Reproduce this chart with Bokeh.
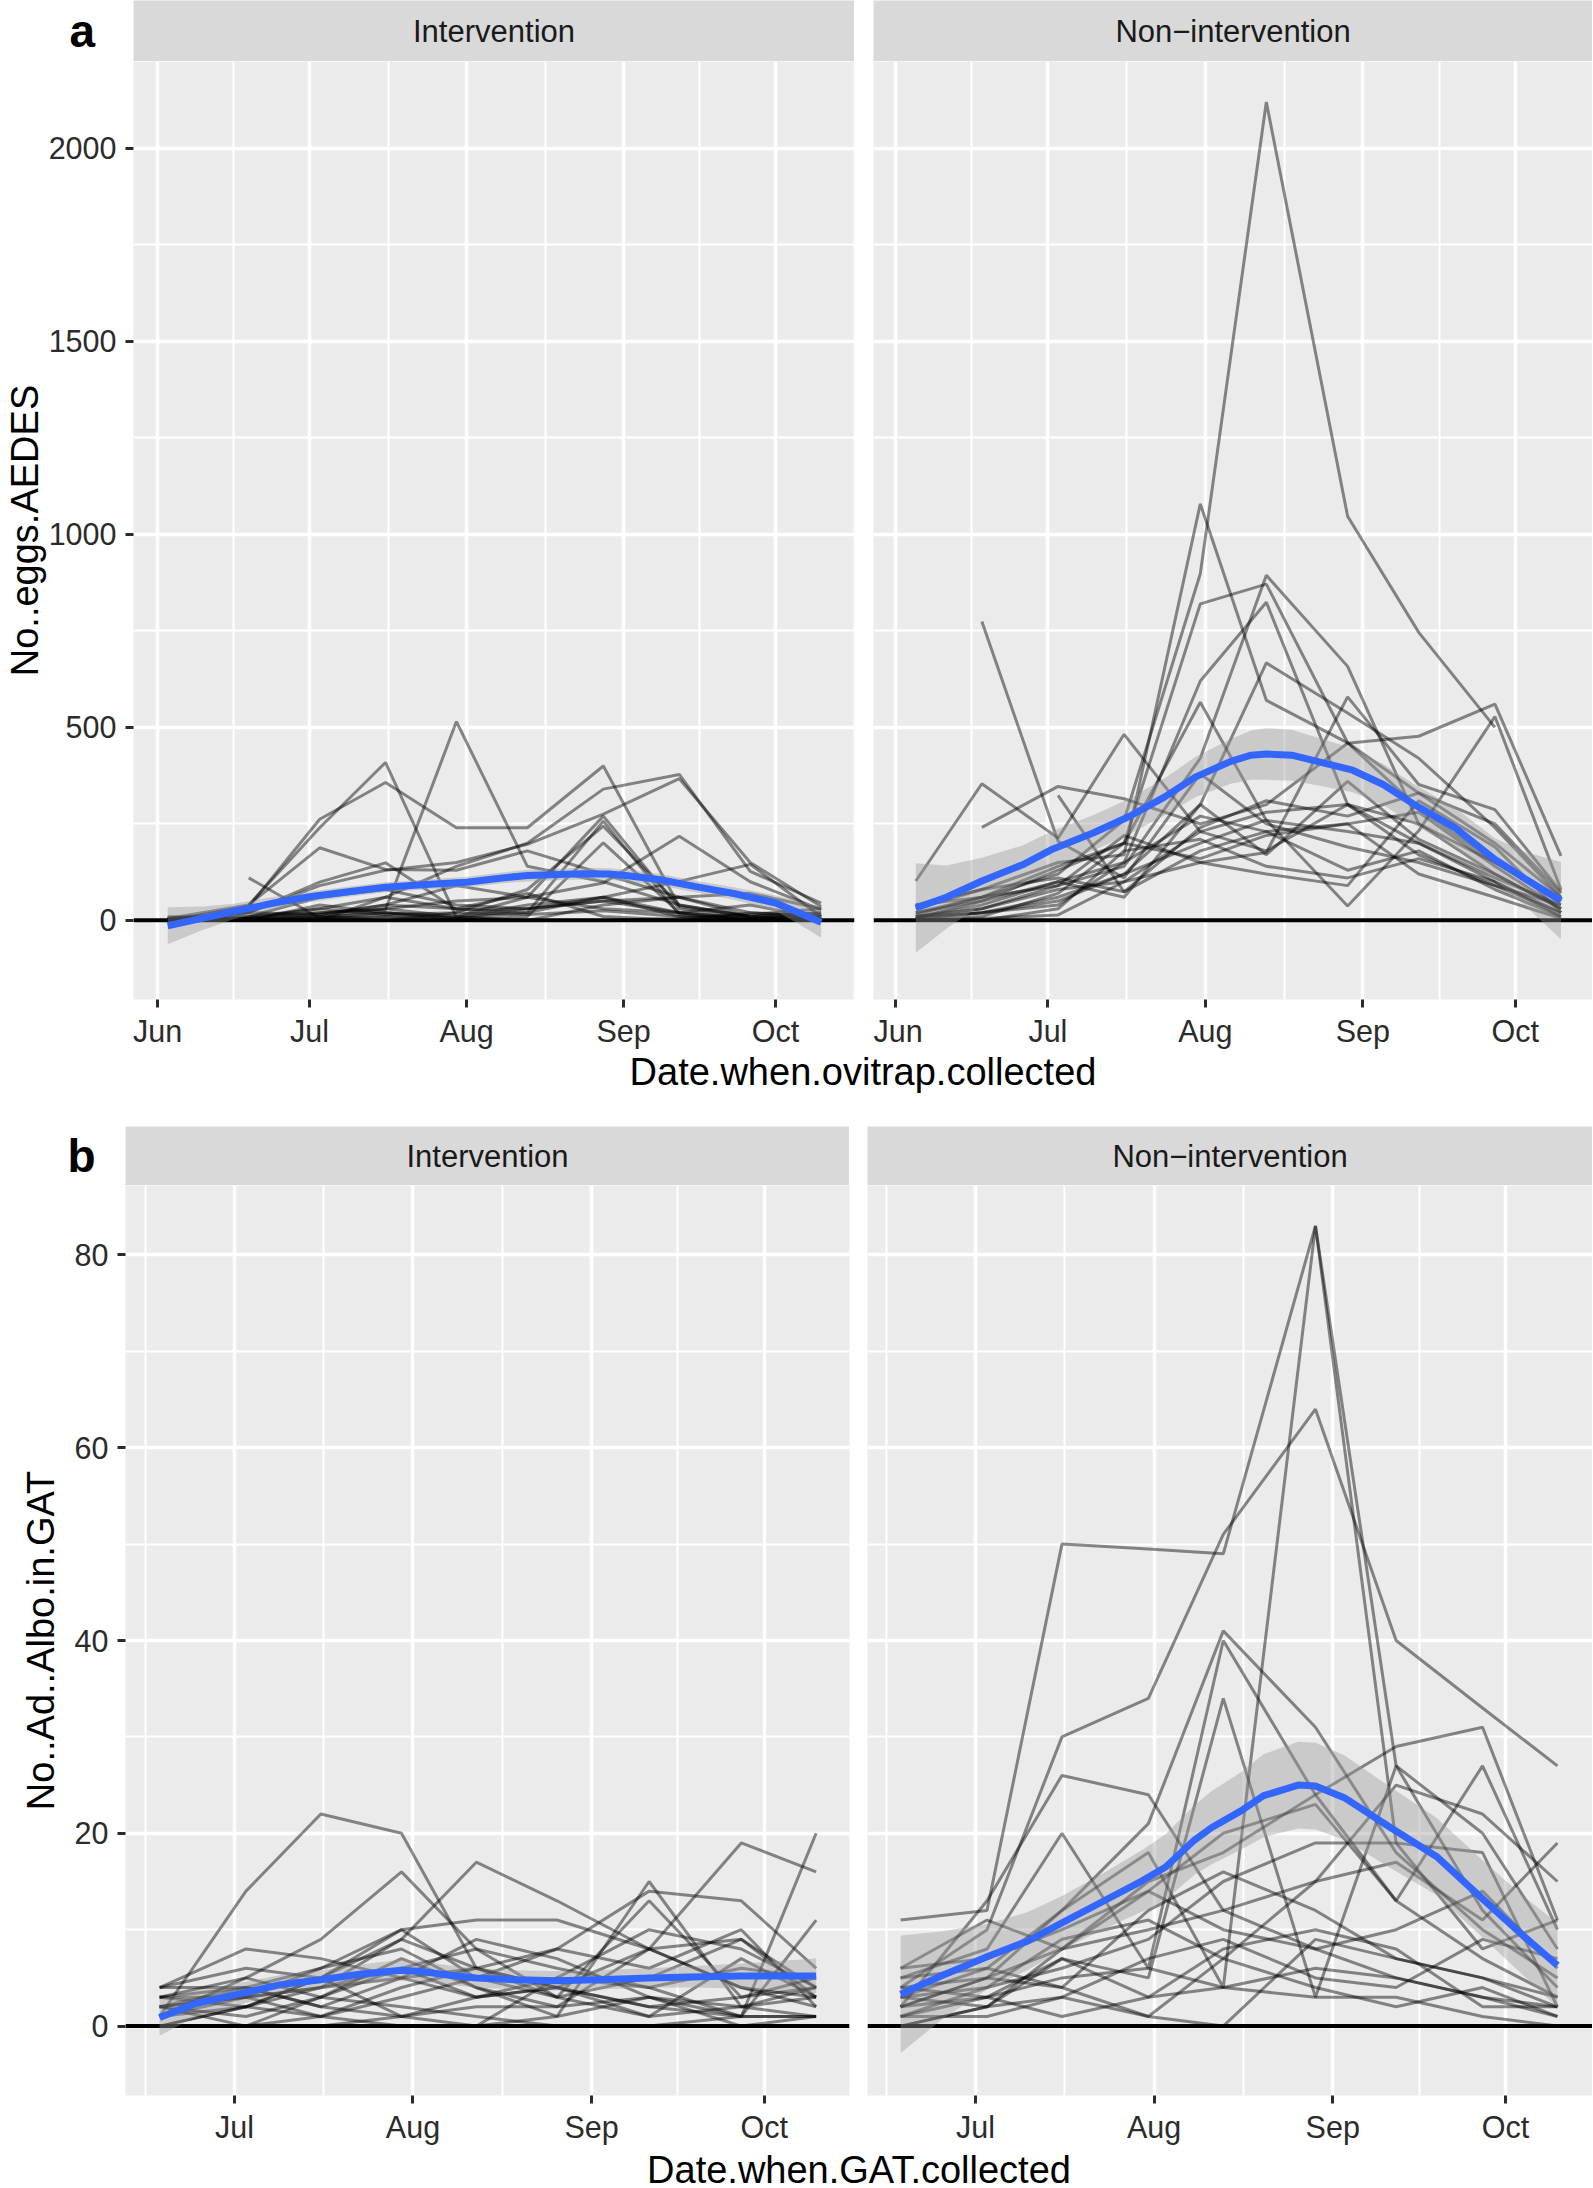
import numpy as np
import pandas as pd
from bokeh.plotting import figure
from bokeh.models import Range1d, FixedTicker, Span, Label, Spacer, DatetimeTickFormatter
from bokeh.layouts import column, row
from bokeh.embed import file_html
from bokeh.resources import INLINE

NaN = float("nan")

# ---------------------------------------------------------------- data
facet_labels = ["Intervention", "Non\u2212intervention"]
panel_tags = ["a", "b"]
eggs_title_y = "No..eggs.AEDES"
eggs_title_x = "Date.when.ovitrap.collected"
gat_title_y = "No..Ad..Albo.in.GAT"
gat_title_x = "Date.when.GAT.collected"

eggs_tick_dates = ["2017-06-01", "2017-07-01", "2017-08-01", "2017-09-01", "2017-10-01"]
eggs_tick_labels = ["Jun", "Jul", "Aug", "Sep", "Oct"]
eggs_minor_dates = ["2017-06-16", "2017-07-16 12:00", "2017-08-16 12:00", "2017-09-16", "2017-10-16 12:00"]
eggs_y_ticks = [0, 500, 1000, 1500, 2000]
eggs_y_minor = [250, 750, 1250, 1750]

gat_tick_dates = ["2017-07-01", "2017-08-01", "2017-09-01", "2017-10-01"]
gat_tick_labels = ["Jul", "Aug", "Sep", "Oct"]
gat_minor_dates = ["2017-06-15 12:00", "2017-07-16 12:00", "2017-08-16 12:00", "2017-09-16"]
gat_y_ticks = [0, 20, 40, 60, 80]
gat_y_minor = [10, 30, 50, 70]

# ovitrap eggs, intervention area
eggs_int_dates = ["2017-06-03", "2017-06-19", "2017-07-03", "2017-07-16", "2017-07-30",
                  "2017-08-13", "2017-08-28", "2017-09-12", "2017-09-26", "2017-10-10"]
eggs_int = [
    [NaN, 110, 6, 20, 5, 30, 60, 10, 5, 15],
    [0, 36, 262, 357, 240, 240, 400, 36, 10, 20],
    [NaN, 40, 240, 409, 8, 40, 60, 20, 5, 10],
    [0, 10, 20, 28, 515, 140, 100, 40, 10, 5],
    [0, 5, 30, 60, 140, 200, 340, 378, 127, 45],
    [5, 20, 90, 130, 150, 197, 275, 367, 150, 36],
    [0, 0, 10, 30, 50, 60, 97, 218, 100, 28],
    [0, 5, 15, 40, 30, 20, 60, 101, 145, 10],
    [5, 40, 188, 132, 130, 180, 120, 60, 20, 10],
    [0, 20, 99, 149, 28, 30, 50, 20, 5, 5],
    [0, 5, 20, 30, 10, 60, 270, 30, 5, 0],
    [0, 0, 10, 20, 5, 20, 257, 15, 0, 0],
    [5, 10, 30, 15, 20, 80, 244, 40, 10, 5],
    [0, 0, 5, 10, 0, 10, 201, 20, 0, 5],
    [0, 10, 60, 80, 40, 30, 50, 60, 10, 20],
    [0, 0, 40, 20, 10, 0, 40, 60, 70, 30],
    [5, 20, 15, 40, 90, 60, 30, 20, 40, 5],
    [0, 5, 10, 0, 20, 15, 25, 10, 0, 0],
    [0, 0, 0, 60, 30, 70, 10, 0, 20, 10],
    [10, 0, 5, 10, 5, 0, 0, 5, 15, 30],
]
eggs_int_smooth_dates = ["2017-06-03", "2017-06-10", "2017-06-16", "2017-06-24", "2017-07-01",
                         "2017-07-09", "2017-07-16", "2017-07-24", "2017-08-01", "2017-08-08",
                         "2017-08-13", "2017-08-19", "2017-08-24", "2017-08-29", "2017-09-01",
                         "2017-09-08", "2017-09-15", "2017-09-23", "2017-10-01", "2017-10-05",
                         "2017-10-10"]
eggs_int_smooth = [-14, 6, 23, 45, 61, 75, 86, 93, 99, 110, 116, 119, 121, 120, 117, 106, 88, 69, 45, 23, -5]
eggs_int_se = [48, 30, 20, 16, 14, 13, 13, 13, 14, 14, 15, 15, 15, 15, 15, 15, 15, 16, 20, 28, 40]

# ovitrap eggs, non-intervention area
eggs_non_dates = ["2017-06-05", "2017-06-18", "2017-07-03", "2017-07-16", "2017-07-31",
                  "2017-08-13", "2017-08-29", "2017-09-12", "2017-09-27", "2017-10-10"]
eggs_non = [
    [NaN, 774, 205, 110, 380, 250, 190, 150, 90, 40],
    [40, 60, 120, 260, 898, 2120, 1047, 746, 500, NaN],
    [30, 80, 150, 170, 1079, 570, 460, 330, 200, 60],
    [20, 50, 130, 200, 820, 871, 460, 290, 150, 50],
    [10, 30, 90, 140, 420, 894, 658, 250, 120, 30],
    [10, 40, 100, 150, 620, 824, 300, 200, 100, 20],
    [5, 20, 60, 120, 300, 667, 537, 420, 240, 60],
    [102, 354, 213, 482, 230, 180, 300, 250, 150, 50],
    [NaN, 241, 347, 315, 250, 300, 459, 477, 560, 167],
    [5, 20, 50, 120, 200, 260, 37, 232, 528, 80],
    [10, 30, 80, 100, 150, 176, 579, 352, 287, 74],
    [20, 60, 140, 200, 565, 259, 230, 200, 110, 40],
    [NaN, NaN, 324, 74, 180, 230, 250, 280, 140, 30],
    [0, 5, 14, 100, 230, 280, 300, 170, 90, 20],
    [10, 20, 40, 150, 270, 230, 130, 180, 80, 10],
    [0, 10, 70, 200, 160, 220, 250, 120, 60, 5],
    [5, 50, 100, 60, 300, 170, 360, 210, 120, 30],
    [40, 80, 110, 74, 240, 310, 270, 330, 250, 70],
    [0, 0, 30, 180, 210, 140, 110, 160, 100, 10],
    [15, 60, 90, 220, 150, 120, 90, 310, 190, 20],
]
eggs_non_smooth_dates = ["2017-06-05", "2017-06-11", "2017-06-18", "2017-06-26", "2017-07-02",
                         "2017-07-10", "2017-07-17", "2017-07-24", "2017-07-30", "2017-08-06",
                         "2017-08-10", "2017-08-13", "2017-08-18", "2017-08-23", "2017-08-30",
                         "2017-09-05", "2017-09-11", "2017-09-19", "2017-09-27", "2017-10-03",
                         "2017-10-10"]
eggs_non_smooth = [32, 60, 102, 144, 185, 227, 269, 320, 371, 412, 428, 431, 428, 412, 389, 352, 301, 241, 158, 107, 51]
eggs_non_se = [116, 82, 60, 50, 47, 46, 46, 48, 52, 58, 64, 67, 66, 62, 57, 53, 52, 52, 55, 70, 100]

# adult Ae. albopictus in GAT, intervention area
gat_int_dates = ["2017-06-18", "2017-07-03", "2017-07-16", "2017-07-30", "2017-08-12",
                 "2017-08-26", "2017-09-11", "2017-09-27", "2017-10-10"]
gat_int = [
    [1, 14, 22, 20, 6, 4, 2, 1, 1],
    [3, 5, 9, 16, 8, 3, 1, 2, 3],
    [0, 2, 5, 9, 17, 13, 8, 4, 2],
    [2, 4, 6, 8, 4, 1, 15, 2, 4],
    [1, 3, 4, 5, 6, 8, 14, 13, 6],
    [2, 3, 1, 4, 6, 4, 8, 19, 16],
    [0, 0, 3, 6, 8, 6, 4, 1, 20],
    [3, 4, 2, 5, 9, 7, 3, 1, 11],
    [4, 6, 5, 10, 5, 3, 13, 3, 5],
    [4, 8, 7, 5, 3, 4, 2, 3, 4],
    [2, 3, 6, 10, 11, 11, 8, 9, 3],
    [0, 2, 4, 9, 6, 3, 5, 9, 4],
    [4, 4, 2, 1, 3, 5, 4, 6, 5],
    [3, 3, 4, 6, 3, 4, 1, 7, 3],
    [1, 2, 1, 0, 0, 1, 3, 2, 1],
    [2, 1, 3, 2, 1, 0, 0, 1, 1],
    [0, 0, 1, 3, 5, 8, 6, 10, 2],
    [1, 5, 3, 7, 4, 2, 8, 4, 3],
    [2, 0, 0, 1, 2, 2, 3, 0, 1],
    [3, 2, 5, 1, 0, 5, 10, 8, 4],
]
gat_int_smooth_dates = ["2017-06-18", "2017-06-24", "2017-07-03", "2017-07-09", "2017-07-16",
                        "2017-07-23", "2017-07-30", "2017-08-02", "2017-08-07", "2017-08-12",
                        "2017-08-19", "2017-08-26", "2017-09-02", "2017-09-11", "2017-09-18",
                        "2017-09-27", "2017-10-10"]
gat_int_smooth = [0.9, 2.3, 3.5, 4.3, 4.8, 5.4, 5.8, 5.7, 5.3, 5.0, 4.8, 4.7, 4.8, 5.0, 5.1, 5.2, 5.2]
gat_int_se = [1.9, 1.4, 1.1, 1.0, 1.0, 1.0, 1.1, 1.1, 1.0, 1.0, 1.0, 1.0, 1.0, 1.0, 1.1, 1.3, 1.8]

# adult Ae. albopictus in GAT, non-intervention area
gat_non_dates = ["2017-06-18", "2017-07-03", "2017-07-16", "2017-07-31", "2017-08-13",
                 "2017-08-29", "2017-09-12", "2017-09-27", "2017-10-10"]
gat_non = [
    [11, 12, 50, 49.5, 49, 83, 27, 20, 8],
    [3, 6, 12, 18, 4, 83, 19, 8, 11],
    [4, 10, 30, 34, 51, 64, 40, 33, 27],
    [2, 5, 12, 21, 41, 31, 18, 10, 5],
    [5, 8, 20, 6, 40, 24, 13, 7, 3],
    [1, 3, 7, 5, 34, 3, 27, 12, 4],
    [2, 13, 26, 24, 12, 8, 5, 3, 2],
    [0, 2, 8, 15, 18, 24, 29, 31, 11],
    [6, 7, 10, 14, 20, 23, 13, 27, 10],
    [4, 5, 8, 10, 12, 15, 17, 11, 19],
    [3, 4, 6, 9, 15, 19, 19, 18, 2],
    [1, 4, 9, 11, 7, 15, 25, 22, 15],
    [2, 3, 1, 3, 4, 6, 5, 3, 1],
    [0, 2, 3, 1, 0, 9, 7, 5, 2],
    [4, 3, 5, 6, 4, 3, 3, 1, 0],
    [5, 6, 4, 12, 16, 12, 7, 5, 3],
    [1, 1, 3, 7, 9, 5, 4, 9, 7],
    [3, 2, 7, 3, 8, 10, 8, 2, 2],
    [6, 11, 8, 14, 10, 8, 10, 14, 6],
    [2, 5, 4, 1, 7, 4, 2, 4, 1],
]
gat_non_smooth_dates = ["2017-06-18", "2017-06-25", "2017-07-03", "2017-07-10", "2017-07-16",
                        "2017-07-23", "2017-07-30", "2017-08-03", "2017-08-08", "2017-08-11",
                        "2017-08-16", "2017-08-20", "2017-08-26", "2017-08-29", "2017-09-03",
                        "2017-09-11", "2017-09-19", "2017-09-27", "2017-10-04", "2017-10-10"]
gat_non_smooth = [3.3, 5.2, 7.2, 8.8, 10.7, 12.9, 15.1, 16.5, 19.3, 20.6, 22.3, 23.9, 25.0, 24.9, 23.7, 20.6, 17.6, 13.2, 9.4, 6.3]
gat_non_se = [6.1, 4.6, 3.4, 3.0, 2.8, 2.9, 3.2, 3.4, 3.6, 3.8, 4.0, 4.3, 4.5, 4.5, 4.4, 4.2, 4.0, 4.0, 4.1, 4.4]

# axis limits (ggplot 5% expansion)
eggs_y_range = (-205, 2225)
gat_y_range = (-7.2, 87.2)
eggs_int_x_range = ("2017-05-27 06:00", "2017-10-16 14:00")
eggs_non_x_range = ("2017-05-27 16:00", "2017-10-16 05:00")
gat_int_x_range = ("2017-06-12 02:00", "2017-10-15 19:00")
gat_non_x_range = ("2017-06-12 06:00", "2017-10-16 02:00")

# ---------------------------------------------------------------- style
FONT = "Liberation Sans"
PANEL_BG = "#EBEBEB"
STRIP_BG = "#D9D9D9"
AXIS_COL = "#2B2B2B"
TICK_SIZE = "30.5px"
TITLE_SIZE = "38px"


def ms(d):
    return float(pd.Timestamp(d).value // 10**6)


def dt(lst):
    return pd.to_datetime(lst).values


def style_axis(ax, ticker, overrides=None, standoff=8):
    ax.ticker = ticker
    ax.axis_line_color = None
    ax.major_tick_line_color = AXIS_COL
    ax.major_tick_line_width = 3
    ax.major_tick_in = 0
    ax.major_tick_out = 8
    ax.minor_tick_line_color = None
    ax.major_label_text_font = FONT
    ax.major_label_text_font_size = TICK_SIZE
    ax.major_label_text_color = AXIS_COL
    ax.major_label_standoff = standoff
    if overrides:
        ax.major_label_overrides = overrides


def make_panel(dates, series, sm_d, sm_v, sm_se, xr, yr, xt, xlab, xm, yt, ym,
               fw, fh, left, right, bottom, ytitle=None, ytitle_standoff=5):
    p = figure(x_axis_type="datetime",
               x_range=Range1d(ms(xr[0]), ms(xr[1])), y_range=Range1d(*yr),
               frame_width=fw, frame_height=fh,
               min_border_left=left, min_border_right=right,
               min_border_top=0, min_border_bottom=bottom,
               toolbar_location=None, output_backend="svg",
               background_fill_color=PANEL_BG, border_fill_color="white",
               outline_line_color=None,
               y_axis_location="left" if ytitle else None)
    xt_ms = [ms(d) for d in xt]
    xticker = FixedTicker(ticks=xt_ms, minor_ticks=[ms(d) for d in xm])
    yticker = FixedTicker(ticks=yt, minor_ticks=ym)
    xax = p.xaxis[0]
    xax.formatter = DatetimeTickFormatter(days="%b", months="%b", years="%b")
    style_axis(xax, xticker, {v: l for v, l in zip(xt_ms, xlab)}, standoff=6)
    if ytitle:
        yax = p.yaxis[0]
        style_axis(yax, yticker, None, standoff=9)
        yax.axis_label = ytitle
        yax.axis_label_text_font = FONT
        yax.axis_label_text_font_size = TITLE_SIZE
        yax.axis_label_text_font_style = "normal"
        yax.axis_label_text_color = "black"
        yax.axis_label_standoff = ytitle_standoff
    for g, tk in ((p.xgrid[0], xticker), (p.ygrid[0], yticker)):
        g.ticker = tk
        g.grid_line_color = "white"
        g.grid_line_width = 3.5
        g.minor_grid_line_color = "white"
        g.minor_grid_line_width = 2
    p.add_layout(Span(location=0, dimension="width", line_color="black",
                      line_width=4, level="underlay"))
    x = dt(dates)
    for s in series:
        p.line(x=x, y=np.array(s, dtype=float), line_color="black",
               line_alpha=0.45, line_width=3)
    sx = dt(sm_d)
    sv = np.array(sm_v, dtype=float)
    se = np.array(sm_se, dtype=float)
    p.varea(x=sx, y1=sv - se, y2=sv + se, fill_color="#999999", fill_alpha=0.4)
    p.line(x=sx, y=sv, line_color="#3366FF", line_width=7)
    return p


def make_box(w, h, text, fill="white", size="31px", bold=False, x=0.5, y=0.5,
             align="center", color="#1A1A1A"):
    p = figure(frame_width=w, frame_height=h,
               x_range=Range1d(0, 1), y_range=Range1d(0, 1),
               min_border=0, min_border_left=0, min_border_right=0,
               min_border_top=0, min_border_bottom=0,
               x_axis_location=None, y_axis_location=None,
               toolbar_location=None, output_backend="svg",
               background_fill_color=fill, border_fill_color="white",
               outline_line_color=None)
    p.xgrid.visible = False
    p.ygrid.visible = False
    p.add_layout(Label(x=x, y=y, text=text, text_align=align, text_baseline="middle",
                       text_font=FONT, text_font_size=size,
                       text_font_style="bold" if bold else "normal", text_color=color))
    return p


# ---------------------------------------------------------------- panel a
FH_A = 938
a1 = make_panel(eggs_int_dates, eggs_int, eggs_int_smooth_dates, eggs_int_smooth, eggs_int_se,
                eggs_int_x_range, eggs_y_range, eggs_tick_dates, eggs_tick_labels, eggs_minor_dates,
                eggs_y_ticks, eggs_y_minor, 721, FH_A, 133, 19, 49,
                ytitle=eggs_title_y, ytitle_standoff=0)
a2 = make_panel(eggs_non_dates, eggs_non, eggs_non_smooth_dates, eggs_non_smooth, eggs_non_se,
                eggs_non_x_range, eggs_y_range, eggs_tick_dates, eggs_tick_labels, eggs_minor_dates,
                eggs_y_ticks, eggs_y_minor, 719, FH_A, 0, 0, 49)

row_a_strip = row(
    make_box(133, 61, panel_tags[0], size="46px", bold=True, x=0.519, y=0.507,
             align="left", color="black"),
    make_box(721, 61, facet_labels[0], fill=STRIP_BG),
    Spacer(width=19, height=61),
    make_box(719, 61, facet_labels[1], fill=STRIP_BG),
)
row_a_plot = row(a1, a2)
row_a_xt = row(
    Spacer(width=133, height=47),
    make_box(1459, 47, eggs_title_x, size=TITLE_SIZE, x=0.5, y=0.543, color="black"),
)

# ---------------------------------------------------------------- panel b
FH_B = 910
b1 = make_panel(gat_int_dates, gat_int, gat_int_smooth_dates, gat_int_smooth, gat_int_se,
                gat_int_x_range, gat_y_range, gat_tick_dates, gat_tick_labels, gat_minor_dates,
                gat_y_ticks, gat_y_minor, 724, FH_B, 125, 18, 49,
                ytitle=gat_title_y, ytitle_standoff=10)
b2 = make_panel(gat_non_dates, gat_non, gat_non_smooth_dates, gat_non_smooth, gat_non_se,
                gat_non_x_range, gat_y_range, gat_tick_dates, gat_tick_labels, gat_minor_dates,
                gat_y_ticks, gat_y_minor, 725, FH_B, 0, 0, 49)

row_b_strip = row(
    make_box(125, 59, panel_tags[1], size="46px", bold=True, x=0.536, y=0.507,
             align="left", color="black"),
    make_box(724, 59, facet_labels[0], fill=STRIP_BG),
    Spacer(width=18, height=59),
    make_box(725, 59, facet_labels[1], fill=STRIP_BG),
)
row_b_plot = row(b1, b2)
row_b_xt = row(
    Spacer(width=125, height=46),
    make_box(1467, 46, gat_title_x, size=TITLE_SIZE, x=0.5, y=0.5, color="black"),
)

layout = column(row_a_strip, row_a_plot, row_a_xt, Spacer(width=10, height=29),
                row_b_strip, row_b_plot, row_b_xt)

open("out.html", "w").write(file_html(layout, INLINE, title="Aedes counts"))
